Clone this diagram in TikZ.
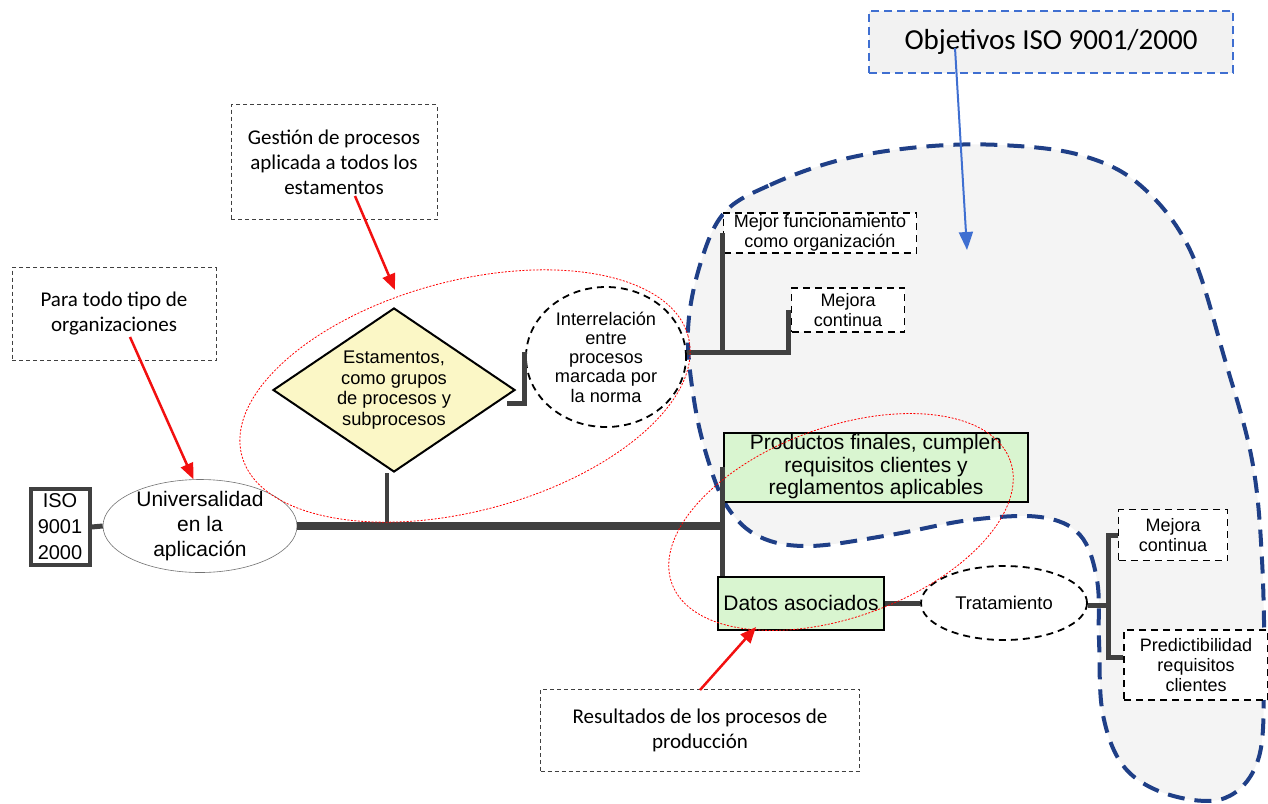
\documentclass[tikz,border=0pt]{standalone}
\usepackage{fontspec}
\setmainfont{Liberation Sans}
\newfontfamily\calibri{Carlito}
\usetikzlibrary{shapes.geometric,arrows.meta,calc}

\definecolor{linegray}{HTML}{404040}
\definecolor{navyblue}{HTML}{1F3F87}
\definecolor{boxgreen}{HTML}{D9F5D0}
\definecolor{diamondyellow}{HTML}{FBF7C6}
\definecolor{objblue}{HTML}{3F6FD1}
\definecolor{blobgray}{HTML}{F4F4F4}
\definecolor{arrowred}{HTML}{F21010}

\begin{document}
\begin{tikzpicture}[x=1pt,y=-1pt,
        conn/.style = {line width=5pt, draw=linegray},
        trunk/.style = {line width=8pt, draw=linegray},
        note/.style = {draw=black!75, dash pattern=on 4pt off 3pt, line width=0.8pt, fill=white,
                       align=center, inner sep=0pt, font=\calibri\fontsize{21}{25}\selectfont},
        goal/.style = {draw=black, line width=1.8pt, dash pattern=on 7pt off 5pt, fill=white,
                       align=center, inner sep=0pt, font=\fontsize{18}{20}\selectfont},
        result/.style = {draw=black, line width=2pt, fill=boxgreen, align=center, inner sep=0pt,
                         font=\fontsize{21}{22.5}\selectfont},
        hilite/.style = {draw=red, line width=0.8pt, dash pattern=on 2pt off 1.5pt},
        callout/.style = {draw=arrowred, line width=2.5pt, -{Triangle[length=16pt,width=13pt,fill=arrowred]}}]
    \useasboundingbox (0,0) rectangle (1268,803);

    % zona de objetivos
    \draw[fill=blobgray, draw=navyblue, line width=4pt, dash pattern=on 17pt off 10pt]
        plot[smooth cycle, tension=0.6] coordinates {
            (724,213) (770,185) (840,160) (920,147) (1000,145) (1080,155) (1140,185)
            (1190,250) (1225,360) (1252,460) (1262,560) (1264,680) (1258,760) (1225,798)
            (1170,795) (1125,768) (1103,715) (1099,640) (1097,580) (1080,535) (1040,517)
            (970,520) (890,535) (810,546) (760,537) (728,508) (708,460) (694,400)
            (688,330) (700,265)};

    % notas
    \node[note, minimum width=204pt, minimum height=93pt] (paratodo) at (114,314)
        {Para todo tipo de\\organizaciones};
    \node[note, minimum width=206pt, minimum height=115pt] (gestion) at (334,162)
        {Gesti\'on de procesos\\aplicada a todos los\\estamentos};
    \node[note, minimum width=319pt, minimum height=82pt] (resultados) at (700,730)
        {Resultados de los procesos de\\producci\'on};
    \node[draw=objblue, line width=2pt, dash pattern=on 8pt off 5pt, fill=black!5,
          minimum width=364pt, minimum height=62pt, inner sep=0pt,
          font=\calibri\fontsize{29}{32}\selectfont] (objetivos) at (1051,42)
        {Objetivos ISO 9001/2000};

    % nodos principales
    \node[draw=linegray, line width=4pt, fill=white, minimum width=59pt, minimum height=76pt,
          inner sep=0pt, align=center, font=\fontsize{20}{26}\selectfont] (iso) at (60,527)
        {ISO\\9001\\2000};
    \node[ellipse, draw=black!55, line width=0.6pt, fill=white, minimum width=194pt,
          minimum height=93pt, inner sep=-6pt, align=center,
          font=\fontsize{21}{25}\selectfont] (univ) at (200,526)
        {Universalidad\\en la\\aplicaci\'on};
    \node[diamond, aspect=1.47, draw=black, line width=2pt, fill=diamondyellow,
          minimum width=242pt, minimum height=164pt, inner sep=0pt, align=center,
          font=\fontsize{18.3}{20.5}\selectfont] (estamentos) at (394,390)
        {Estamentos,\\como grupos\\de procesos y\\subprocesos};
    \node[ellipse, draw=black, line width=1.8pt, dash pattern=on 7pt off 5pt,
          minimum width=160pt, minimum height=140pt, inner sep=0pt, align=center,
          font=\fontsize{18.2}{19.3}\selectfont] (interrel) at (606,357)
        {Interrelaci\'on\\entre\\procesos\\marcada por\\la norma};
    \node[goal, minimum width=193pt, minimum height=40pt] (mejorfunc) at (820,233)
        {Mejor funcionamiento\\como organizaci\'on};
    \node[goal, minimum width=113pt, minimum height=44pt] (mejora1) at (848,310)
        {Mejora\\continua};
    \node[result, minimum width=304pt, minimum height=69pt] (productos) at (876,467)
        {Productos finales, cumplen\\requisitos clientes y\\reglamentos aplicables};
    \node[result, minimum width=166pt, minimum height=53pt] (datos) at (801,603)
        {Datos asociados};
    \node[ellipse, draw=black, line width=1.8pt, dash pattern=on 7pt off 5pt, fill=white,
          minimum width=166pt, minimum height=74pt, inner sep=0pt,
          font=\fontsize{18.4}{20}\selectfont] (tratamiento) at (1004,603)
        {Tratamiento};
    \node[goal, minimum width=109pt, minimum height=51pt] (mejora2) at (1173,535)
        {Mejora\\continua};
    \node[goal, minimum width=144pt, minimum height=70pt] (predict) at (1196,665)
        {Predictibilidad\\requisitos\\clientes};

    % conectores
    \coordinate (junc) at (722,527);
    \coordinate (elbow1) at (524,352);
    \coordinate (br1) at (722,352);
    \coordinate (br2) at (1108,605);

    \draw[conn] (iso.east) -- (univ.west);
    \draw[trunk] (univ.east) -- (univ.east -| junc);
    \draw[line width=4pt, draw=linegray] ([xshift=-7pt]estamentos.south) -- ([xshift=-7pt]estamentos.south |- junc);
    \draw[conn] (junc |- productos.west) -- (junc |- datos.north);
    \draw[conn] ([xshift=-9pt,yshift=-13pt]estamentos.east) -| (elbow1);
    \draw[conn] (interrel.east |- br1) -| ([xshift=-2pt]mejora1.west);
    \draw[conn] (br1) -- (br1 |- mejorfunc.west);
    \draw[conn] (datos.east) -- (tratamiento.west);
    \draw[conn] (tratamiento.east |- br2) -- (br2);
    \draw[conn] (mejora2.west) -| (br2) |- ([yshift=8pt]predict.west);

    % resaltados
    \draw[hilite, rotate around={15:(465,396)}] (465,396) ellipse [x radius=231pt, y radius=115pt];
    \draw[hilite, rotate around={20:(841,522)}] (841,522) ellipse [x radius=180pt, y radius=95pt];

    % flechas
    \coordinate (paratail) at (130,337);
    \coordinate (gesttail) at (355,196);
    \coordinate (gesthead) at (395,290);
    \coordinate (restail) at (700,690);
    \coordinate (reshead) at (756,627);
    \coordinate (objtail) at (955,48);
    \coordinate (objhead) at (967,250);
    \draw[callout] (paratail) -- (univ.98);
    \draw[callout] (gesttail) -- (gesthead);
    \draw[callout] (restail) -- (reshead);
    \draw[objblue, line width=2pt, -{Triangle[length=18pt,width=14pt]}] (objtail) -- (objhead);
\end{tikzpicture}
\end{document}
